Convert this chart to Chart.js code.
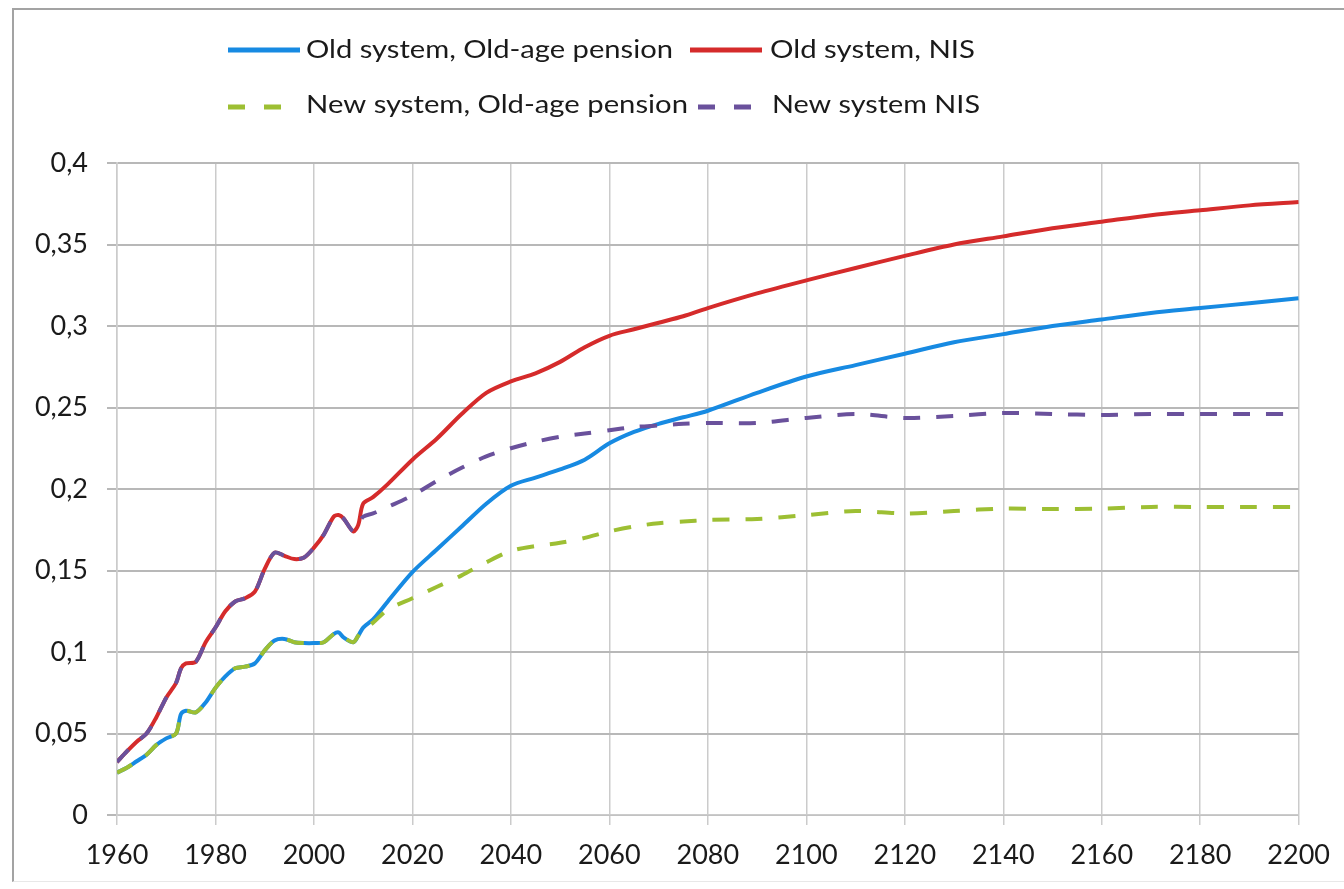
<!DOCTYPE html>
<html>
<head>
<meta charset="utf-8">
<script src="https://cdn.jsdelivr.net/npm/chart.js@4/dist/chart.umd.min.js"></script>
<style>
  html, body { margin: 0; padding: 0; background: #ffffff; }
  #wrap { position: relative; width: 1344px; height: 889px; overflow: hidden; }
  #c { position: absolute; left: 0; top: 0; }
  #frame { position: absolute; left: 12px; top: 8px; width: 1340px; height: 871px;
           border-left: 2px solid #a3a3a3; border-top: 2px solid #a3a3a3; border-bottom: 1px solid #e8e8e8;
           pointer-events: none; }
</style>
</head>
<body>
<div id="wrap">
  <canvas id="c" width="1344" height="889"></canvas>
  <div id="frame"></div>
</div>
<script>
// ---- data ----
const years = [1960,1962,1964,1966,1968,1970,1972,1973,1974,1976,1978,1980,1982,1984,1986,1988,1990,1992,1994,1996,1998,2000,2002,2004,2005,2006,2008,2009,2010,2012,2015,2020,2025,2030,2035,2040,2045,2050,2055,2060,2065,2070,2075,2080,2090,2100,2110,2120,2130,2140,2150,2160,2170,2180,2190,2200];

const oldPension = [0.026,0.029,0.033,0.037,0.043,0.047,0.050,0.062,0.064,0.063,0.069,0.078,0.085,0.090,0.091,0.093,0.101,0.107,0.108,0.106,0.1055,0.1055,0.106,0.111,0.112,0.109,0.106,0.110,0.115,0.120,0.131,0.149,0.163,0.177,0.191,0.202,0.207,0.212,0.218,0.228,0.235,0.240,0.244,0.248,0.259,0.269,0.276,0.283,0.290,0.295,0.300,0.304,0.308,0.311,0.314,0.317];

const oldNIS = [0.0325,0.039,0.045,0.050,0.060,0.072,0.081,0.090,0.093,0.094,0.106,0.115,0.125,0.131,0.133,0.137,0.151,0.161,0.159,0.157,0.158,0.164,0.172,0.183,0.184,0.182,0.174,0.178,0.191,0.195,0.203,0.218,0.231,0.246,0.259,0.266,0.271,0.278,0.287,0.294,0.298,0.302,0.306,0.311,0.320,0.328,0.3356,0.343,0.350,0.355,0.360,0.364,0.368,0.371,0.374,0.376];

const newPension = [0.026,0.029,0.033,0.037,0.043,0.047,0.050,0.062,0.064,0.063,0.069,0.078,0.085,0.090,0.091,0.093,0.101,0.107,0.108,0.106,0.1055,0.1055,0.106,0.111,0.112,0.109,0.106,0.110,0.1135,0.118,0.126,0.133,0.140,0.147,0.155,0.162,0.165,0.167,0.170,0.174,0.177,0.179,0.180,0.181,0.1816,0.184,0.1865,0.185,0.1865,0.188,0.1877,0.188,0.189,0.189,0.189,0.189];

const newNIS = [0.0325,0.039,0.045,0.050,0.060,0.072,0.081,0.090,0.093,0.094,0.106,0.115,0.125,0.131,0.133,0.137,0.151,0.161,0.159,0.157,0.158,0.164,0.172,0.183,0.184,0.182,0.174,0.178,0.183,0.185,0.189,0.196,0.205,0.213,0.220,0.225,0.229,0.232,0.234,0.236,0.238,0.239,0.240,0.2405,0.2405,0.2436,0.246,0.2436,0.2448,0.2466,0.246,0.2454,0.246,0.246,0.246,0.246];

const seriesNames = ['Old system, Old-age pension', 'Old system, NIS', 'New system, Old-age pension', 'New system NIS'];
const xTickStep = 20;
const yTickStep = 0.05;

// ---- styles ----
const colors = ['#178ae2', '#d52b2b', '#9dbf33', '#6a519c'];
const dash = [17, 16];

function pts(vals) { return years.map((y, i) => ({ x: y, y: vals[i] })); }

const legendPlugin = {
  id: 'customLegend',
  afterDraw(chart) {
    const ctx = chart.ctx;
    const items = [
      { name: seriesNames[0], color: colors[0], dashed: false, x0: 228, x1: 300, ly: 50, tx: 306, tw: 367, base: 58 },
      { name: seriesNames[1], color: colors[1], dashed: false, x0: 690, x1: 762, ly: 50, tx: 770, tw: 205, base: 58 },
      { name: seriesNames[2], color: colors[2], dashed: true,  x0: 228, x1: 300, ly: 107, tx: 306, tw: 382, base: 113 },
      { name: seriesNames[3], color: colors[3], dashed: true,  x0: 698, x1: 752, ly: 107, tx: 772, tw: 208, base: 113 }
    ];
    ctx.save();
    for (const it of items) {
      ctx.beginPath();
      ctx.strokeStyle = it.color;
      ctx.lineWidth = 5;
      ctx.lineCap = 'butt';
      ctx.setLineDash(it.dashed ? [17, 19] : []);
      ctx.moveTo(it.x0, it.ly);
      ctx.lineTo(it.x1, it.ly);
      ctx.stroke();
      ctx.setLineDash([]);
      ctx.font = '24.5px Lato';
      ctx.fillStyle = '#1a1a1a';
      ctx.textBaseline = 'alphabetic';
      ctx.textAlign = 'left';
      const w = ctx.measureText(it.name).width;
      const sx = it.tw / w;
      ctx.save();
      ctx.translate(it.tx, it.base);
      ctx.scale(sx, 1);
      ctx.fillText(it.name, 0, 0);
      ctx.restore();
    }
    ctx.restore();
  }
};

const ctx = document.getElementById('c').getContext('2d');
new Chart(ctx, {
  type: 'line',
  data: {
    datasets: [
      { label: seriesNames[0], data: pts(oldPension), borderColor: colors[0], borderWidth: 4, order: 2 },
      { label: seriesNames[1], data: pts(oldNIS), borderColor: colors[1], borderWidth: 4, order: 2 },
      { label: seriesNames[2], data: pts(newPension), borderColor: colors[2], borderWidth: 4, borderDash: dash, order: 1 },
      { label: seriesNames[3], data: pts(newNIS), borderColor: colors[3], borderWidth: 4, borderDash: dash, order: 0 }
    ]
  },
  options: {
    responsive: false,
    animation: false,
    devicePixelRatio: 1,
    parsing: true,
    elements: { point: { radius: 0 }, line: { tension: 0.3, borderCapStyle: 'butt' } },
    layout: { padding: { left: 13, top: 163, right: 45, bottom: 10 } },
    plugins: { legend: { display: false }, tooltip: { enabled: false } },
    scales: {
      x: {
        type: 'linear',
        min: 1960, max: 2200,
        afterFit(s) { s.height = 64; },
        grid: { color: '#cbcbcb', lineWidth: 1.5, tickLength: 10, drawTicks: true },
        border: { color: '#cbcbcb', width: 1.5 },
        ticks: {
          stepSize: xTickStep, autoSkip: false, maxRotation: 0, padding: 14,
          color: '#1a1a1a', font: { family: 'Lato', size: 27 },
          callback: v => String(v)
        }
      },
      y: {
        type: 'linear',
        min: 0, max: 0.4,
        afterFit(s) { s.width = 104; },
        grid: { color: '#b8b8b8', lineWidth: 2, tickLength: 10, drawTicks: true },
        border: { color: '#cbcbcb', width: 1.5 },
        ticks: {
          stepSize: yTickStep, padding: 19,
          color: '#1a1a1a', font: { family: 'Lato', size: 27 },
          callback: v => v === 0 ? '0' : String(+v.toFixed(2)).replace('.', ',')
        }
      }
    }
  },
  plugins: [legendPlugin]
});
</script>
</body>
</html>
